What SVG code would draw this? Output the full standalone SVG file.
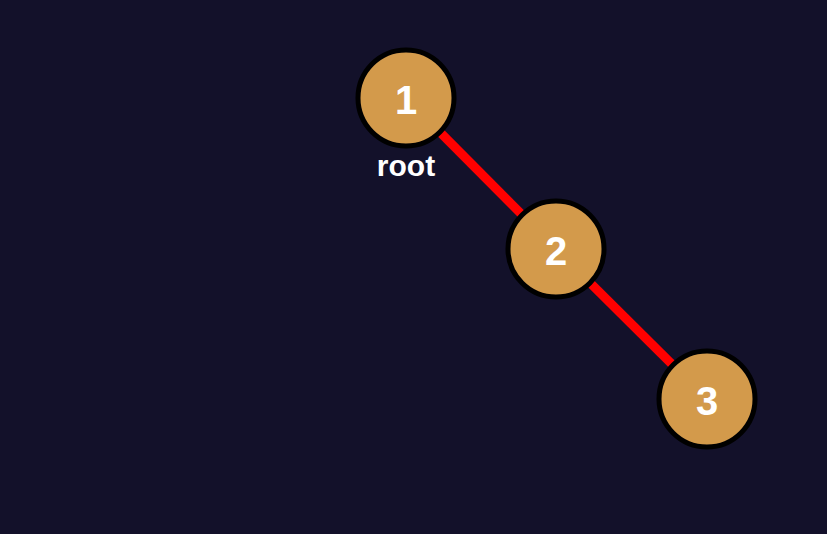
<svg xmlns="http://www.w3.org/2000/svg" width="827" height="534" viewBox="0 0 827 534">
<style>
.node circle{fill:#d39a4b;stroke:#000;stroke-width:5}
.node text{fill:#fff;font-family:"Liberation Sans",Arial,sans-serif;font-weight:bold;font-size:40px;text-anchor:middle;dominant-baseline:central}
.label{fill:#fff;font-family:"Liberation Sans",Arial,sans-serif;font-weight:bold;font-size:30px;text-anchor:middle}
.edge{stroke:#ff0000;stroke-width:9}
</style>
<rect width="827" height="534" fill="#13112a"/>
<g id="connectors">
<line class="edge" x1="406" y1="98" x2="556" y2="249"/>
<line class="edge" x1="556" y1="249" x2="707" y2="399"/>
</g>
<g id="node1" class="node">
<circle cx="406" cy="98" r="48"/>
<text x="406" y="100">1</text>
</g>
<text id="rootLabel" class="label" x="406" y="176">root</text>
<g id="node2" class="node">
<circle cx="556" cy="249" r="48"/>
<text x="556" y="251">2</text>
</g>
<g id="node3" class="node">
<circle cx="707" cy="399" r="48"/>
<text x="707" y="401">3</text>
</g>
</svg>
